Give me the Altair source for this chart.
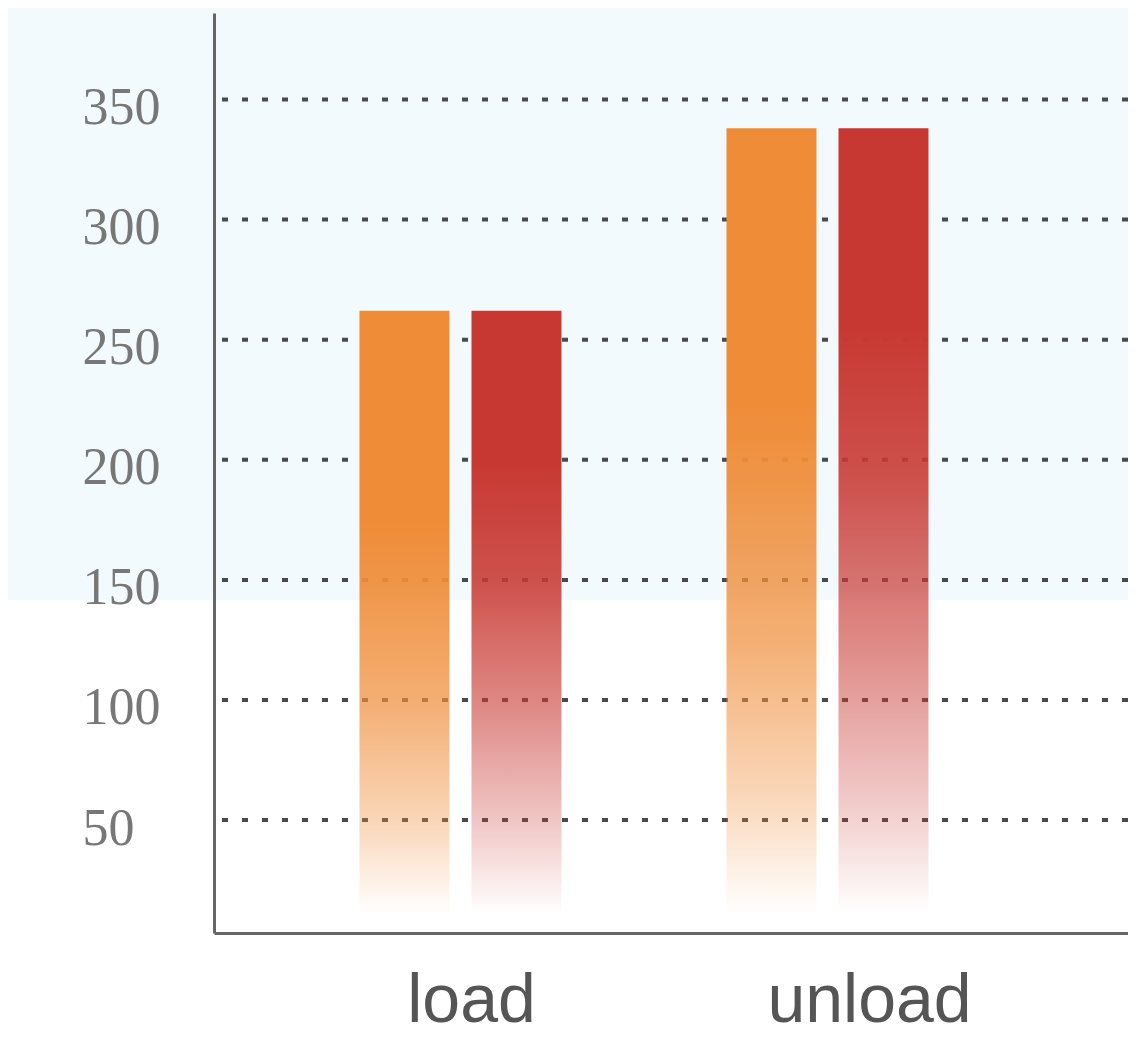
import altair as alt
import pandas as pd

# ---- data ----
categories = ["load", "unload"]
series_names = ["s1", "s2"]
values_s1 = [262, 338]
values_s2 = [262, 338]
bar_base = 11
tick_values = [50, 100, 150, 200, 250, 300, 350]
y_domain = [3, 386]
band_top = 400
band_bottom = 141.7

rows = []
for c, a, b in zip(categories, values_s1, values_s2):
    rows.append({"category": c, "series": series_names[0], "value": a, "base": bar_base})
    rows.append({"category": c, "series": series_names[1], "value": b, "base": bar_base})
bars_df = pd.DataFrame(rows)
grid_df = pd.DataFrame({"v": tick_values})
band_df = pd.DataFrame({"top": [band_top], "bottom": [band_bottom]})

W, H = 914, 920

x_scale = alt.Scale(domain=categories, paddingInner=0.4496, paddingOuter=0.470, align=0.4217)
xoff_scale = alt.Scale(domain=series_names, paddingInner=0.1964, paddingOuter=0)
y_scale = alt.Scale(domain=y_domain, nice=False, zero=False)

x_axis = alt.Axis(
    title=None, labelAngle=0, ticks=False, tickSize=0, grid=False,
    labelFont="Liberation Sans", labelFontSize=68, labelColor="#555555",
    labelPadding=34, labelLimit=0, domainColor="#666666", domainWidth=3, zindex=1,
    labelOffset={"condition": {"test": "datum.value === 'unload'", "value": 42}, "value": 11},
)
y_axis = alt.Axis(
    title=None, values=tick_values, ticks=False, tickSize=0, grid=False,
    labelFont="Liberation Serif", labelFontSize=52, labelColor="#777777",
    labelPadding=132, labelAlign="left", labelBaseline="middle", labelOffset=8,
    domainColor="#666666", domainWidth=3, zindex=1,
)

def grad(rgb, stops):
    r, g, b = rgb
    return alt.Gradient(
        gradient="linear", x1=0, y1=0, x2=0, y2=1,
        stops=[alt.GradientStop(offset=o, color=f"rgba({r},{g},{b},{a})") for o, a in stops],
    )

orange = grad((239, 140, 56), [(0, 1), (0.35, 1), (0.45, 0.92), (0.65, 0.7), (0.85, 0.35), (1, 0)])
red = grad((200, 56, 50), [(0, 1), (0.25, 1), (0.45, 0.87), (0.65, 0.6), (0.85, 0.28), (1, 0)])

band = alt.Chart(band_df).mark_rect(color="#f2fafd").encode(
    x=alt.value(-220), x2=alt.value(W + 20),
    y=alt.Y("top:Q", scale=y_scale, axis=y_axis), y2="bottom:Q",
)

grid = alt.Chart(grid_df).mark_rule(color="#4a4a4a", strokeWidth=4, strokeDash=[6, 14]).encode(
    y=alt.Y("v:Q", scale=y_scale, axis=y_axis),
)

def bar_layer(name, fill):
    return alt.Chart(bars_df).transform_filter(alt.datum.series == name).mark_bar(fill=fill).encode(
        x=alt.X("category:N", scale=x_scale, axis=x_axis, sort=categories),
        xOffset=alt.XOffset("series:N", scale=xoff_scale),
        y=alt.Y("value:Q", scale=y_scale, axis=y_axis),
        y2="base:Q",
    )

chart = alt.layer(band, grid, bar_layer("s1", orange), bar_layer("s2", red)).properties(
    width=W, height=H,
    autosize=alt.AutoSizeParams(type="none"),
    padding={"left": 206, "top": 5, "right": 0, "bottom": 101},
    background="white",
).configure_view(stroke=None)

chart.save("out.html", embed_options={"renderer": "svg", "actions": False})
